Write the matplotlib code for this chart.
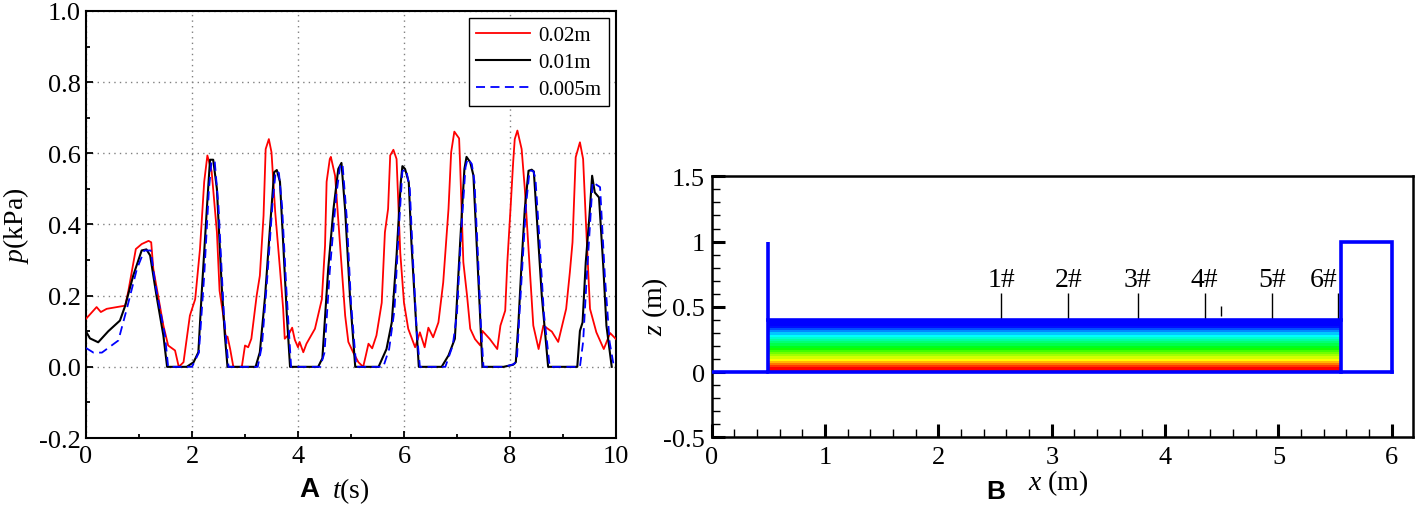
import numpy as np
import matplotlib
matplotlib.use("Agg")
import matplotlib.pyplot as plt
from matplotlib.colors import LinearSegmentedColormap
from matplotlib.ticker import MultipleLocator, FuncFormatter

plt.rcParams["font.family"] = ["Liberation Serif", "DejaVu Serif"]
plt.rcParams["mathtext.fontset"] = "custom"
plt.rcParams["mathtext.rm"] = "Liberation Serif"
plt.rcParams["mathtext.it"] = "Liberation Serif:italic"
plt.rcParams["axes.unicode_minus"] = False

# (A) pressure time histories for three mesh sizes
t_red = [0.0, 0.2, 0.28, 0.39, 0.74, 0.80, 0.94, 1.05, 1.18, 1.23, 1.27, 1.36, 1.46, 1.55, 1.68,
         1.75, 1.84, 1.96, 2.06, 2.15, 2.23, 2.29, 2.37, 2.47, 2.52, 2.59, 2.64, 2.67, 2.72, 2.78,
         2.94, 3.0, 3.06, 3.12, 3.22, 3.28, 3.35, 3.39, 3.45, 3.50, 3.57, 3.66, 3.72, 3.75, 3.82,
         3.89, 3.94, 4.0, 4.03, 4.10, 4.16, 4.32, 4.45, 4.51, 4.54, 4.60, 4.62, 4.70, 4.79, 4.89,
         4.95, 5.04, 5.14, 5.23, 5.28, 5.33, 5.40, 5.48, 5.58, 5.64, 5.70, 5.74, 5.80, 5.86, 5.93,
         6.0, 6.08, 6.21, 6.30, 6.39, 6.46, 6.55, 6.65, 6.74, 6.84, 6.89, 6.95, 7.04, 7.06, 7.12,
         7.19, 7.25, 7.34, 7.44, 7.48, 7.62, 7.76, 7.82, 7.91, 7.95, 8.01, 8.06, 8.09, 8.14, 8.22,
         8.28, 8.35, 8.44, 8.54, 8.63, 8.79, 8.91, 9.06, 9.13, 9.18, 9.24, 9.32, 9.38, 9.43, 9.51,
         9.63, 9.77, 9.89, 10.0]
p_red = [0.135, 0.168, 0.154, 0.163, 0.172, 0.214, 0.331, 0.345, 0.354, 0.35, 0.275, 0.20, 0.116, 0.06, 0.046,
         0.0, 0.013, 0.144, 0.19, 0.33, 0.52, 0.594, 0.55, 0.378, 0.214, 0.144, 0.079, 0.085, 0.05, 0.0,
         0.0, 0.06, 0.055, 0.079, 0.2, 0.256, 0.425, 0.612, 0.64, 0.603, 0.435, 0.275, 0.163, 0.079, 0.09,
         0.11, 0.076, 0.055, 0.07, 0.041, 0.065, 0.107, 0.19, 0.34, 0.52, 0.584, 0.59, 0.537, 0.35, 0.144,
         0.07, 0.041, 0.013, 0.0, 0.032, 0.065, 0.052, 0.088, 0.18, 0.378, 0.444, 0.594, 0.61, 0.584, 0.32,
         0.18, 0.107, 0.055, 0.097, 0.055, 0.11, 0.083, 0.125, 0.237, 0.444, 0.603, 0.661, 0.642, 0.566, 0.294,
         0.2, 0.107, 0.078, 0.06, 0.101, 0.078, 0.05, 0.116, 0.158, 0.294, 0.444, 0.575, 0.64, 0.664, 0.612,
         0.50, 0.331, 0.116, 0.05, 0.116, 0.099, 0.07, 0.163, 0.266, 0.35, 0.589, 0.631, 0.584, 0.416, 0.163,
         0.097, 0.05, 0.095, 0.078]

t_black = [0.0, 0.075, 0.23, 0.42, 0.64, 0.74, 0.89, 1.05, 1.14, 1.21, 1.33, 1.46, 1.53, 1.90, 2.03,
           2.12, 2.18, 2.28, 2.34, 2.40, 2.47, 2.56, 2.62, 2.67, 3.20, 3.28, 3.38, 3.47, 3.55, 3.60,
           3.66, 3.72, 3.79, 3.85, 4.38, 4.46, 4.57, 4.67, 4.76, 4.82, 4.89, 4.98, 5.08, 5.52, 5.67,
           5.77, 5.86, 5.94, 5.97, 6.02, 6.09, 6.14, 6.22, 6.28, 6.71, 6.84, 6.96, 7.06, 7.14, 7.18,
           7.25, 7.31, 7.37, 7.43, 7.48, 7.88, 8.06, 8.11, 8.16, 8.22, 8.28, 8.35, 8.41, 8.45, 8.52,
           8.60, 8.72, 9.27, 9.32, 9.37, 9.43, 9.50, 9.55, 9.60, 9.68, 9.76, 9.82, 9.92]
p_black = [0.099, 0.08, 0.069, 0.10, 0.13, 0.172, 0.256, 0.327, 0.33, 0.313, 0.20, 0.088, 0.0, 0.0, 0.013,
           0.041, 0.20, 0.444, 0.582, 0.582, 0.50, 0.228, 0.088, 0.0, 0.0, 0.041, 0.20, 0.388, 0.547, 0.553,
           0.52, 0.35, 0.144, 0.0, 0.0, 0.024, 0.275, 0.444, 0.556, 0.573, 0.44, 0.2, 0.0, 0.0, 0.05,
           0.125, 0.313, 0.519, 0.564, 0.556, 0.519, 0.35, 0.144, 0.0, 0.0, 0.032, 0.079, 0.35, 0.556, 0.59,
           0.575, 0.538, 0.35, 0.163, 0.0, 0.0, 0.006, 0.013, 0.125, 0.294, 0.444, 0.551, 0.554, 0.549, 0.388,
           0.2, 0.0, 0.0, 0.101, 0.125, 0.294, 0.425, 0.537, 0.49, 0.476, 0.284, 0.116, 0.0]

t_blue = [0.0, 0.14, 0.30, 0.61, 0.77, 0.96, 1.10, 1.22, 1.31, 1.49, 1.55, 2.0, 2.13, 2.23, 2.32,
          2.37, 2.43, 2.50, 2.60, 2.69, 3.24, 3.32, 3.42, 3.52, 3.58, 3.64, 3.70, 3.78, 3.87, 4.42,
          4.50, 4.60, 4.72, 4.80, 4.84, 4.92, 5.0, 5.10, 5.61, 5.72, 5.82, 5.90, 5.97, 6.04, 6.11,
          6.17, 6.24, 6.30, 6.78, 6.92, 7.0, 7.08, 7.16, 7.20, 7.28, 7.33, 7.40, 7.45, 7.50, 7.90,
          8.08, 8.13, 8.18, 8.24, 8.30, 8.37, 8.44, 8.48, 8.56, 8.64, 8.75, 9.32, 9.38, 9.45, 9.56,
          9.60, 9.70, 9.79, 9.88, 9.95]
p_blue = [0.053, 0.04, 0.04, 0.074, 0.163, 0.275, 0.327, 0.327, 0.23, 0.088, 0.0, 0.0, 0.04, 0.256, 0.5,
          0.58, 0.575, 0.45, 0.15, 0.0, 0.0, 0.06, 0.25, 0.46, 0.55, 0.545, 0.45, 0.22, 0.0, 0.0,
          0.04, 0.27, 0.48, 0.57, 0.57, 0.42, 0.18, 0.0, 0.0, 0.05, 0.16, 0.38, 0.55, 0.555, 0.5,
          0.3, 0.1, 0.0, 0.0, 0.06, 0.15, 0.38, 0.56, 0.585, 0.57, 0.52, 0.3, 0.12, 0.0, 0.0,
          0.008, 0.02, 0.15, 0.3, 0.45, 0.552, 0.55, 0.53, 0.35, 0.15, 0.0, 0.0, 0.07, 0.256, 0.519,
          0.515, 0.505, 0.256, 0.07, 0.01]

series_labels = ["0.02m", "0.01m", "0.005m"]

# (B) flume geometry
wall_x = 0.5
wall_top = 1.0
water_depth = 0.4
box_x = [5.55, 6.0]
box_top = 1.0
probe_x = [2.555, 3.145, 3.76, 4.35, 4.945, 5.525]
probe_labels = ["1#", "2#", "3#", "4#", "5#", "6#"]
probe_top = 0.61
extra_mark_x = 4.49

fig = plt.figure(figsize=(14.17, 5.06), dpi=100)

# ---------------- panel A
ax1 = fig.add_axes([0.0607, 0.1324, 0.374, 0.8439])
ax1.plot(t_red, p_red, color="red", lw=1.3, label=series_labels[0], zorder=3)
ax1.plot(t_black, p_black, color="black", lw=1.5, label=series_labels[1], zorder=4)
ax1.plot(t_blue, p_blue, color="blue", lw=1.3, ls=(0, (5, 3)), label=series_labels[2], zorder=5)
ax1.set_xlim(0, 10)
ax1.set_ylim(-0.2, 1.0)
ax1.xaxis.set_major_locator(MultipleLocator(2))
ax1.xaxis.set_minor_locator(MultipleLocator(1))
ax1.yaxis.set_major_locator(MultipleLocator(0.2))
ax1.yaxis.set_minor_locator(MultipleLocator(0.1))
ax1.yaxis.set_major_formatter(FuncFormatter(lambda v, _: "%.1f" % v))
ax1.grid(True, which="major", color="gray", ls=(0, (1, 3)), lw=1)
ax1.tick_params(which="both", direction="in", labelsize=19, width=1.3)
ax1.tick_params(which="major", length=5)
ax1.tick_params(which="minor", length=3)
ax1.tick_params(axis="x", pad=5)
for s in ax1.spines.values():
    s.set_linewidth(1.5)
ax1.set_xlabel("$t$(s)", fontsize=20)
ax1.xaxis.set_label_coords(0.5, -0.088)
ax1.set_ylabel("$p$(kPa)", fontsize=20)
ax1.yaxis.set_label_coords(-0.104, 0.5)
leg = ax1.legend(loc="upper right", fontsize=15, frameon=True, fancybox=False,
                 edgecolor="black", framealpha=1, handlelength=2.6, borderaxespad=0.35,
                 labelspacing=0.35, handletextpad=0.4, borderpad=0.35)
leg.get_frame().set_linewidth(1.0)
fig.text(309 / 1417, 1 - 490 / 506, "A", fontsize=20, fontweight="bold",
         family="Liberation Sans", ha="center", va="center")

# ---------------- panel B
ax2 = fig.add_axes([0.5023, 0.1334, 0.4951, 0.5162])
water_cmap = LinearSegmentedColormap.from_list(
    "water", [(0, "red"), (0.05, "red"), (0.22, "yellow"), (0.45, "lime"),
              (0.7, "cyan"), (0.88, "blue"), (1, "blue")], N=24)
grad = np.linspace(0, 1, 200).reshape(-1, 1)
ax2.imshow(grad, extent=[wall_x, box_x[0], 0, water_depth], origin="lower",
           aspect="auto", cmap=water_cmap, interpolation="nearest", zorder=1)
blue_lw = 2.6
ax2.plot([0, wall_x, wall_x], [0, 0, wall_top], color="blue", lw=blue_lw, zorder=3,
         solid_capstyle="butt")
ax2.plot([wall_x, box_x[0]], [water_depth, water_depth], color="blue", lw=blue_lw, zorder=3)
ax2.plot([wall_x, box_x[1]], [0, 0], color="blue", lw=blue_lw, zorder=3)
ax2.plot([box_x[0], box_x[0], box_x[1], box_x[1]], [0, box_top, box_top, 0],
         color="blue", lw=blue_lw, zorder=3, solid_joinstyle="miter")
ax2.vlines(probe_x, water_depth, probe_top, color="black", lw=1.0, zorder=2)
ax2.vlines([extra_mark_x], 0.43, 0.51, color="black", lw=1.0, zorder=2)
for i, (px, lab) in enumerate(zip(probe_x, probe_labels)):
    ha = "right" if i == len(probe_x) - 1 else "center"
    ax2.text(px, 0.71, lab, fontsize=20, ha=ha, va="center")
ax2.set_xlim(0, 6.19)
ax2.set_ylim(-0.5, 1.5)
ax2.xaxis.set_major_locator(MultipleLocator(1))
ax2.xaxis.set_minor_locator(MultipleLocator(0.2))
ax2.yaxis.set_major_locator(MultipleLocator(0.5))
ax2.yaxis.set_minor_locator(MultipleLocator(0.1))
ax2.yaxis.set_major_formatter(FuncFormatter(lambda v, _: "%g" % v))
ax2.tick_params(which="both", direction="in", labelsize=19)
ax2.tick_params(which="major", length=9.5, width=2.2)
ax2.tick_params(which="minor", length=5.5, width=1.0)
ax2.tick_params(axis="y", pad=5)
ax2.tick_params(axis="x", pad=6)
for s in ax2.spines.values():
    s.set_linewidth(1.8)
ax2.set_xlabel("$x$ (m)", fontsize=20)
ax2.xaxis.set_label_coords(0.494, -0.115)
ax2.set_ylabel("$z$ (m)", fontsize=20)
ax2.yaxis.set_label_coords(-0.06, 0.504)
fig.text(996 / 1417, 1 - 492 / 506, "B", fontsize=19, fontweight="bold",
         family="Liberation Sans", ha="center", va="center")

fig.savefig("out.png", dpi=100)
